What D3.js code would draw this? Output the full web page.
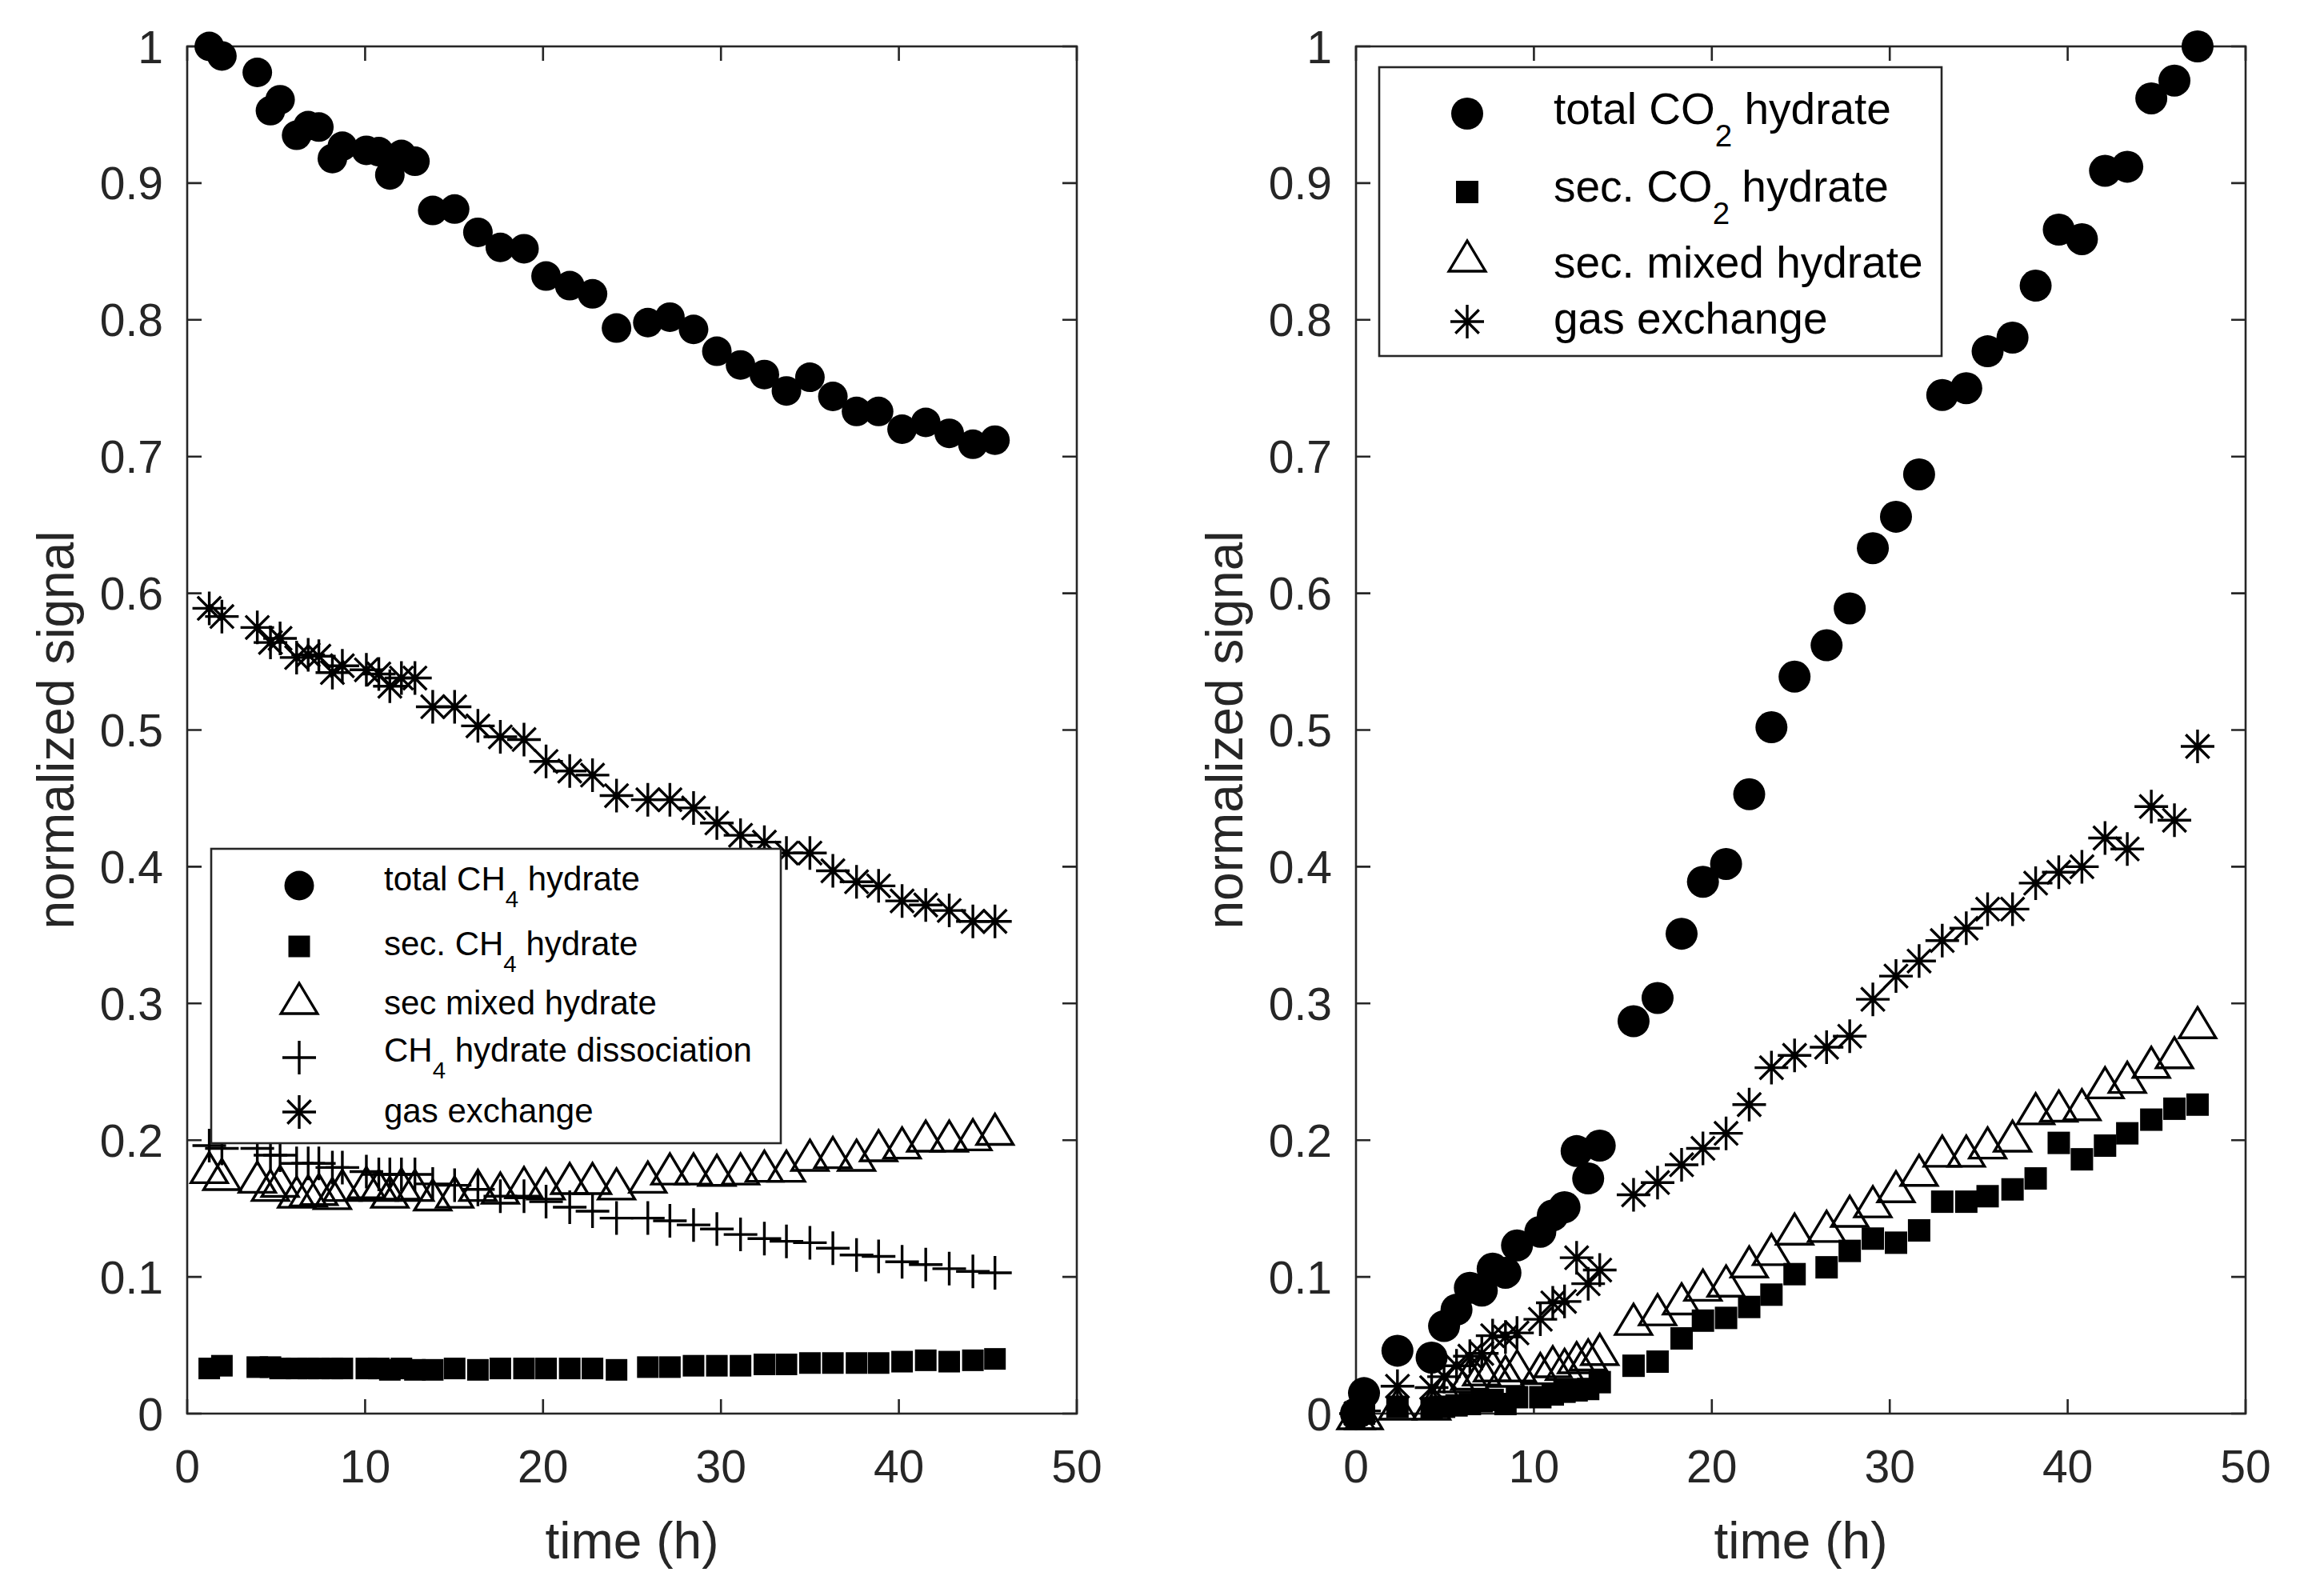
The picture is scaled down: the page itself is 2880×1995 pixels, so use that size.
<!DOCTYPE html>
<html>
<head>
<meta charset="utf-8">
<title>normalized signal vs time</title>
<style type="text/css">
body {margin: 0; background: #fff;}
text {font-family: "Liberation Sans", Arial, Helvetica, sans-serif; white-space: pre;}
</style>
</head>
<body>
<svg width="2880" height="1995"></svg>
<script src="https://d3js.org/d3.v7.min.js"></script>
<script>
// left panel - CH4 hydrate
var timeCH4 = [1.24, 1.95, 3.94, 4.68, 5.22, 6.15, 6.8, 7.4, 8.16, 8.72, 10.07, 10.77, 11.39, 12.04, 12.8, 13.8, 15.03, 16.34, 17.6, 18.93,
    20.17, 21.5, 22.78, 24.13, 25.89, 27.13, 28.46, 29.77, 31.1, 32.44, 33.68, 35.0, 36.29, 37.62, 38.86, 40.18, 41.51, 42.83, 44.16, 45.4];
var totalCH4 = [1.0, 0.993, 0.981, 0.953, 0.961, 0.935, 0.942, 0.941, 0.918, 0.927, 0.924, 0.923, 0.906, 0.921, 0.916, 0.880, 0.881, 0.864, 0.853, 0.852,
    0.832, 0.825, 0.819, 0.794, 0.798, 0.802, 0.793, 0.777, 0.767, 0.760, 0.748, 0.758, 0.744, 0.733, 0.733, 0.720, 0.725, 0.717, 0.709, 0.712];
var secCH4 = [0.033, 0.035, 0.034, 0.034, 0.033, 0.033, 0.033, 0.033, 0.033, 0.033, 0.033, 0.033, 0.032, 0.033, 0.032, 0.032, 0.033, 0.032, 0.033, 0.033,
    0.033, 0.033, 0.033, 0.032, 0.034, 0.034, 0.035, 0.035, 0.035, 0.036, 0.036, 0.037, 0.037, 0.037, 0.037, 0.038, 0.039, 0.038, 0.039, 0.040];
var secMixedCH4 = [0.180, 0.175, 0.173, 0.167, 0.170, 0.162, 0.163, 0.164, 0.161, 0.167, 0.169, 0.167, 0.162, 0.168, 0.167, 0.160, 0.162, 0.167, 0.165, 0.169,
    0.168, 0.172, 0.172, 0.168, 0.173, 0.179, 0.179, 0.178, 0.179, 0.181, 0.181, 0.189, 0.191, 0.189, 0.196, 0.198, 0.203, 0.203, 0.204, 0.208];
var dissocCH4 = [0.196, 0.194, 0.194, 0.189, 0.189, 0.183, 0.183, 0.183, 0.180, 0.180, 0.177, 0.175, 0.175, 0.175, 0.175, 0.168, 0.167, 0.164, 0.159, 0.159,
    0.155, 0.151, 0.148, 0.143, 0.143, 0.141, 0.138, 0.135, 0.131, 0.128, 0.126, 0.125, 0.121, 0.116, 0.115, 0.111, 0.109, 0.106, 0.104, 0.103];
var gasExCH4 = [0.589, 0.583, 0.575, 0.564, 0.567, 0.553, 0.555, 0.554, 0.542, 0.547, 0.544, 0.541, 0.532, 0.538, 0.538, 0.517, 0.517, 0.503, 0.495, 0.493,
    0.477, 0.470, 0.467, 0.452, 0.449, 0.449, 0.443, 0.432, 0.423, 0.418, 0.410, 0.410, 0.397, 0.389, 0.386, 0.375, 0.372, 0.368, 0.360, 0.360];

// right panel - CO2 hydrate
var timeCO2 = [0, 0.45, 2.33, 4.25, 4.95, 5.65, 6.4, 7.07, 7.68, 8.4, 9.05, 10.36, 11.06, 11.72, 12.4, 13.05, 13.7, 15.6, 16.95, 18.3,
    19.5, 20.8, 22.1, 23.35, 24.65, 26.45, 27.75, 29.05, 30.35, 31.65, 32.95, 34.3, 35.5, 36.9, 38.2, 39.5, 40.8, 42.1, 43.35, 44.7, 46.0, 47.3];
var totalCO2 = [0, 0.015, 0.046, 0.041, 0.064, 0.076, 0.092, 0.090, 0.106, 0.103, 0.123, 0.133, 0.145, 0.151, 0.192, 0.172, 0.196, 0.287, 0.304, 0.351,
    0.389, 0.402, 0.453, 0.502, 0.539, 0.562, 0.589, 0.633, 0.656, 0.687, 0.745, 0.750, 0.777, 0.787, 0.825, 0.866, 0.859, 0.909, 0.912, 0.962, 0.975, 1.0];
var secCO2 = [0, 0, 0.005, 0.004, 0.005, 0.006, 0.007, 0.009, 0.010, 0.007, 0.012, 0.012, 0.014, 0.016, 0.017, 0.018, 0.023, 0.035, 0.038, 0.055,
    0.068, 0.070, 0.078, 0.087, 0.102, 0.107, 0.119, 0.128, 0.125, 0.134, 0.155, 0.155, 0.159, 0.164, 0.172, 0.198, 0.186, 0.196, 0.205, 0.215, 0.223, 0.226];
var secMixedCO2 = [0, 0, 0.007, 0.007, 0.018, 0.027, 0.029, 0.032, 0.035, 0.031, 0.035, 0.033, 0.038, 0.036, 0.041, 0.043, 0.047, 0.069, 0.076, 0.084,
    0.094, 0.097, 0.111, 0.120, 0.135, 0.137, 0.148, 0.155, 0.166, 0.178, 0.192, 0.192, 0.198, 0.203, 0.223, 0.225, 0.226, 0.242, 0.246, 0.257, 0.264, 0.286];
var gasExCO2 = [0, 0.002, 0.020, 0.019, 0.027, 0.035, 0.042, 0.044, 0.057, 0.056, 0.059, 0.069, 0.081, 0.082, 0.114, 0.095, 0.105, 0.160, 0.169, 0.182,
    0.194, 0.205, 0.226, 0.253, 0.262, 0.268, 0.276, 0.303, 0.320, 0.331, 0.346, 0.355, 0.369, 0.369, 0.388, 0.396, 0.400, 0.421, 0.413, 0.444, 0.434, 0.488];

var xTicks = [0, 10, 20, 30, 40, 50];
var yTicks = [0, 0.1, 0.2, 0.3, 0.4, 0.5, 0.6, 0.7, 0.8, 0.9, 1];
var xLabel = "time (h)";
var yLabel = "normalized signal";

var svg = d3.select("svg");
svg.append("rect").attr("width", 2880).attr("height", 1995).attr("fill", "#fff");

var axisColor = "#262626";

// marker paths (MATLAB style: o s ^ + *)
function markerPath(type, s) {
    var h = s / 2;
    if (type == "circle") {
        return "M" + h + ",0A" + h + "," + h + " 0 1,1 " + (-h) + ",0A" + h + "," + h + " 0 1,1 " + h + ",0Z";
    }
    if (type == "square") {
        return "M" + (-h) + "," + (-h) + "h" + s + "v" + s + "h" + (-s) + "Z";
    }
    if (type == "triangle") {
        // s = height, base a bit wider
        var w = s * 0.6, th = s * 0.5;
        return "M0," + (-th) + "L" + w + "," + th + "L" + (-w) + "," + th + "Z";
    }
    if (type == "plus") {
        return "M" + (-h) + ",0H" + h + "M0," + (-h) + "V" + h;
    }
    // asterisk
    var d = h * 0.7;
    return "M" + (-h) + ",0H" + h + "M0," + (-h) + "V" + h +
        "M" + (-d) + "," + (-d) + "L" + d + "," + d + "M" + (-d) + "," + d + "L" + d + "," + (-d);
}

function styleMarker(sel, type) {
    if (type == "circle" || type == "square") {
        sel.attr("fill", "#000").attr("stroke", "none");
    } else {
        sel.attr("fill", "none").attr("stroke", "#000").attr("stroke-width", 3.4).attr("stroke-linejoin", "miter");
    }
}

function drawPanel(p) {
    var x = d3.scaleLinear().domain([0, 50]).range([p.left, p.right]);
    var y = d3.scaleLinear().domain([0, 1]).range([1767, 58]);

    var g = svg.append("g");

    // box
    g.append("rect")
        .attr("x", p.left).attr("y", y(1))
        .attr("width", p.right - p.left).attr("height", y(0) - y(1))
        .attr("fill", "none").attr("stroke", axisColor).attr("stroke-width", 2.6);

    // inward ticks on all four sides
    var tl = 18;
    g.selectAll(".xt").data(xTicks).enter().append("path")
        .attr("d", function(d) {
            return "M" + x(d) + "," + y(0) + "v" + (-tl) + "M" + x(d) + "," + y(1) + "v" + tl;
        })
        .attr("stroke", axisColor).attr("stroke-width", 2.6);
    g.selectAll(".yt").data(yTicks).enter().append("path")
        .attr("d", function(d) {
            return "M" + p.left + "," + y(d) + "h" + tl + "M" + p.right + "," + y(d) + "h" + (-tl);
        })
        .attr("stroke", axisColor).attr("stroke-width", 2.6);

    // tick labels
    g.selectAll(".xl").data(xTicks).enter().append("text")
        .attr("x", function(d) { return x(d); })
        .attr("y", 1853)
        .attr("text-anchor", "middle")
        .attr("font-size", 57)
        .attr("fill", axisColor)
        .text(function(d) { return d; });
    g.selectAll(".yl").data(yTicks).enter().append("text")
        .attr("x", p.left - 30)
        .attr("y", function(d) { return y(d); })
        .attr("dy", "0.36em")
        .attr("text-anchor", "end")
        .attr("font-size", 57)
        .attr("fill", axisColor)
        .text(function(d) { return d; });

    // axis titles
    g.append("text")
        .attr("x", (p.left + p.right) / 2)
        .attr("y", 1948)
        .attr("text-anchor", "middle")
        .attr("font-size", 64)
        .attr("fill", axisColor)
        .text(xLabel);
    g.append("text")
        .attr("transform", "translate(" + (p.left - 142) + "," + ((y(0) + y(1)) / 2) + ") rotate(-90)")
        .attr("text-anchor", "middle")
        .attr("font-size", 64)
        .attr("fill", axisColor)
        .text(yLabel);

    // data markers
    p.series.forEach(function(s) {
        var pts = p.time.map(function(t, i) { return [t, s.values[i]]; });
        var m = g.append("g").selectAll("path").data(pts).enter().append("path")
            .attr("transform", function(d) { return "translate(" + x(d[0]) + "," + y(d[1]) + ")"; })
            .attr("d", markerPath(s.type, s.size));
        styleMarker(m, s.type);
    });

    // legend
    var L = p.legend;
    g.append("rect")
        .attr("x", L.x0).attr("y", L.y0)
        .attr("width", L.x1 - L.x0).attr("height", L.y1 - L.y0)
        .attr("fill", "#fff").attr("stroke", axisColor).attr("stroke-width", 2.6);
    p.series.forEach(function(s, i) {
        var mk = g.append("path")
            .attr("transform", "translate(" + L.mx + "," + L.my[i] + ")")
            .attr("d", markerPath(s.type, s.size));
        styleMarker(mk, s.type);
        var t = g.append("text")
            .attr("x", L.tx).attr("y", L.ty[i])
            .attr("font-size", L.fs)
            .attr("fill", "#000");
        s.label.forEach(function(part) {
            if (part.sub) {
                t.append("tspan").attr("font-size", L.fs * 0.7).attr("dy", L.fs * 0.5).text(part.sub);
            } else {
                t.append("tspan").attr("dy", part.after ? -L.fs * 0.5 : 0).text(part.txt);
            }
        });
    });
}

drawPanel({
    left: 234, right: 1346,
    time: timeCH4,
    series: [
        {values: totalCH4, type: "circle", size: 37, label: [{txt: "total CH"}, {sub: "4"}, {txt: " hydrate", after: true}]},
        {values: secCH4, type: "square", size: 27, label: [{txt: "sec. CH"}, {sub: "4"}, {txt: " hydrate", after: true}]},
        {values: secMixedCH4, type: "triangle", size: 38, label: [{txt: "sec mixed hydrate"}]},
        {values: dissocCH4, type: "plus", size: 42, label: [{txt: "CH"}, {sub: "4"}, {txt: " hydrate dissociation", after: true}]},
        {values: gasExCH4, type: "star", size: 42, label: [{txt: "gas exchange"}]}
    ],
    legend: {x0: 264, y0: 1061, x1: 976, y1: 1429, mx: 374, tx: 480, fs: 42,
        my: [1107, 1183, 1248, 1322, 1390], ty: [1113, 1194, 1268, 1327, 1403]}
});

drawPanel({
    left: 1695, right: 2807,
    time: timeCO2,
    series: [
        {values: totalCO2, type: "circle", size: 40, label: [{txt: "total CO"}, {sub: "2"}, {txt: " hydrate", after: true}]},
        {values: secCO2, type: "square", size: 28, label: [{txt: "sec. CO"}, {sub: "2"}, {txt: " hydrate", after: true}]},
        {values: secMixedCO2, type: "triangle", size: 38, label: [{txt: "sec. mixed hydrate"}]},
        {values: gasExCO2, type: "star", size: 42, label: [{txt: "gas exchange"}]}
    ],
    legend: {x0: 1724, y0: 84, x1: 2427, y1: 445, mx: 1834, tx: 1942, fs: 55,
        my: [142, 240, 320, 402], ty: [155, 252, 347, 417]}
});
</script>
</body>
</html>
